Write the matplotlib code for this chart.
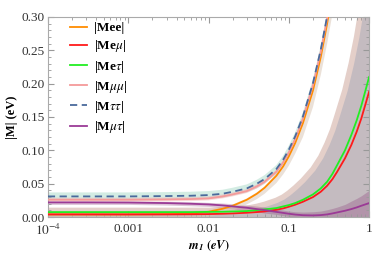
import matplotlib
matplotlib.use('Agg')
import matplotlib.pyplot as plt
from matplotlib.ticker import LogLocator, NullFormatter, MultipleLocator

plt.rcParams['font.family'] = ['Liberation Serif', 'DejaVu Serif']
plt.rcParams['mathtext.fontset'] = 'stix'

# lightest neutrino mass (eV)
m1 = [1e-4, 3e-4, 1e-3, 3e-3, 0.006, 0.01, 0.015, 0.02, 0.03, 0.04, 0.05, 0.07, 0.085,
      0.1, 0.12, 0.15, 0.2, 0.25, 0.3, 0.35, 0.4, 0.5, 0.6, 0.7, 0.8, 1.0]

# central curves |M_ab| (eV)
m_ee = [.004, .004, .004, .0045, .005, .008, .0125, .017, .026, .035, .044, .062, .076,
        .091, .111, .141, .19, .24, .29, .34, .39, .49, .59, .69, .79, .99]
m_emu = [.004, .004, .004, .004, .0042, .0045, .005, .0055, .0065, .0075, .0085, .011, .013,
         .0155, .0185, .023, .03, .038, .047, .057, .068, .088, .108, .128, .148, .188]
m_etau = [.0075, .0075, .0075, .0075, .0075, .0078, .008, .0085, .009, .0105, .0115, .0135, .016,
          .018, .021, .026, .034, .043, .053, .065, .078, .1, .123, .145, .167, .21]
m_mumu = [.026, .026, .026, .0265, .027, .028, .031, .034, .039, .046, .053, .068, .082,
          .097, .117, .148, .198, .248, .298, .348, .398, .498, .598, .698, .798, .998]
m_tautau = [.031, .031, .031, .0315, .032, .033, .035, .038, .043, .05, .057, .072, .086,
            .101, .121, .151, .201, .251, .301, .351, .401, .501, .601, .701, .801, 1.0]
m_mutau = [.022, .022, .0218, .021, .02, .019, .0175, .016, .014, .012, .0105, .0078, .0063,
           .005, .0038, .0028, .0025, .003, .004, .0055, .007, .0095, .012, .0145, .017, .021]

# allowed ranges (bands)
tt_lo = [.025, .025, .025, .0255, .026, .027, .029, .032, .037, .043, .05, .064, .078,
         .093, .113, .143, .193, .243, .293, .343, .393, .493, .593, .693, .793, .99]
tt_hi = [.037, .037, .037, .0375, .038, .039, .041, .044, .049, .056, .063, .078, .092,
         .107, .127, .157, .207, .257, .307, .357, .407, .507, .607, .707, .807, 1.01]
mm_lo = [.023, .023, .023, .0235, .024, .025, .028, .031, .036, .043, .05, .065, .079,
         .094, .114, .145, .195, .245, .295, .345, .395, .495, .595, .695, .795, .995]
mm_hi = [.029, .029, .029, .0295, .03, .031, .034, .037, .042, .049, .056, .071, .085,
         .1, .12, .151, .201, .251, .301, .351, .401, .501, .601, .701, .801, 1.0]
ee_lo = [0, 0, 0, 0, 0, 0, .005, .01, .019, .027, .035, .051, .064,
         .077, .095, .12, .165, .213, .26, .305, .35, .44, .53, .62, .71, .89]
ee_hi = [.008, .008, .008, .0085, .009, .011, .015, .019, .028, .037, .046, .064, .078,
         .093, .113, .143, .192, .242, .292, .342, .392, .492, .592, .692, .792, .992]
e_hi = [.01, .01, .01, .01, .01, .01, .0105, .011, .013, .016, .019, .025, .03,
        .036, .044, .055, .072, .09, .11, .13, .152, .19, .23, .27, .312, .40]
mt_lo = [.019, .019, .019, .018, .017, .016, .014, .012, .01, .008, .006, .004, .002,
         .001, 0, 0, 0, 0, 0, 0, 0, 0, 0, 0, 0, 0]
mt_hi = [.024, .024, .024, .0235, .023, .022, .021, .02, .018, .0165, .015, .012, .0105,
         .009, .008, .0075, .008, .009, .011, .013, .015, .019, .024, .028, .032, .04]

fig = plt.figure(figsize=(3.74, 2.56), dpi=100)
ax = fig.add_axes([0.128, 0.152, 0.859, 0.782])

# bands
ax.fill_between(m1, 0, e_hi, color='#c4bbc0', lw=0, zorder=1)
ax.plot(m1, e_hi, color='#e4cfc9', lw=4, zorder=1)
ax.fill_between(m1, mt_lo, mt_hi, color='#8b3a7a', alpha=0.3, lw=0, zorder=1.5)
ax.fill_between(m1, ee_lo, ee_hi, color='#d8c4b2', alpha=0.5, lw=0, zorder=1.6)
ax.fill_between(m1, tt_lo, tt_hi, color='#9fd6c2', alpha=0.45, lw=0, zorder=1.7)
ax.fill_between(m1, mm_lo, mm_hi, color='#f5a5a5', alpha=0.4, lw=0, zorder=1.8)

# curves
ax.plot(m1, m_ee, color='#ff8c00', lw=1.3, label='|Mee|', zorder=3)
ax.plot(m1, m_emu, color='#ff1a1a', lw=1.3, label=r'|Me$\mu$|', zorder=3)
ax.plot(m1, m_etau, color='#22ee22', lw=1.3, label=r'|Me$\tau$|', zorder=3)
ax.plot(m1, m_mumu, color='#f59a9a', lw=1.3, label=r'|M$\mu\mu$|', zorder=3)
ax.plot(m1, m_tautau, color='#4a6a9c', lw=1.3, ls=(0, (4, 2.5)), label=r'|M$\tau\tau$|', zorder=4)
ax.plot(m1, m_mutau, color='#9b3a96', lw=1.3, label=r'|M$\mu\tau$|', zorder=3)

ax.set_xscale('log')
ax.set_xlim(1e-4, 1)
ax.set_ylim(0, 0.30)

ax.set_xticks([1e-4, 1e-3, 1e-2, 1e-1, 1])
ax.set_xticklabels([r'$10^{-4}$', '0.001', '0.01', '0.1', '1'])
ax.xaxis.set_minor_locator(LogLocator(base=10, subs=range(2, 10), numticks=20))
ax.xaxis.set_minor_formatter(NullFormatter())
ax.yaxis.set_major_locator(MultipleLocator(0.05))
ax.yaxis.set_minor_locator(MultipleLocator(0.01))
ax.set_yticklabels(['%.2f' % v for v in ax.get_yticks()])

ax.tick_params(which='both', direction='in', top=True, right=True, color='#999999',
               labelsize=9.5, labelcolor='#333333')
ax.tick_params(which='major', length=4)
ax.tick_params(which='minor', length=2)
ax.tick_params(axis='y', pad=2)
ax.tick_params(axis='x', pad=4)
for s in ax.spines.values():
    s.set_color('#aaaaaa')

ax.set_ylabel('|M| (eV)', fontweight='bold', fontsize=9, labelpad=3)
ax.set_xlabel(r'$\mathbfit{m}_{\mathbfit{1}}\ \mathbf{(}\mathbfit{eV}\mathbf{)}$', fontsize=9, labelpad=1)

leg = ax.legend(loc='upper left', bbox_to_anchor=(0.068, 0.975), frameon=False,
                handlelength=1.3, handletextpad=0.55, labelspacing=0.32,
                borderaxespad=0, borderpad=0, prop={'weight': 'bold', 'size': 9.5})

fig.savefig('out.png', dpi=100)
